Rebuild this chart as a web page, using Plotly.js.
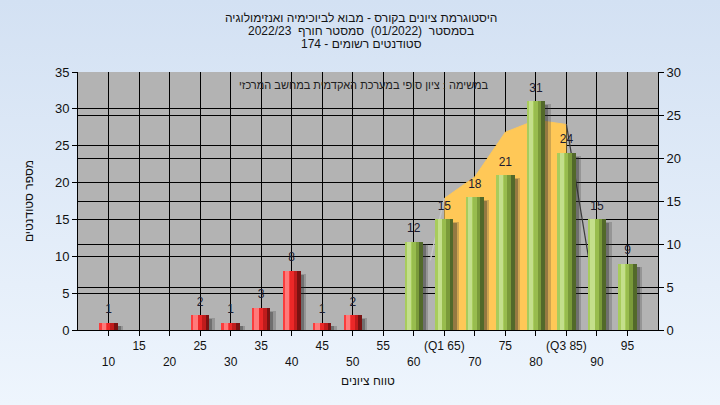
<!DOCTYPE html>
<html><head><meta charset="utf-8">
<script src="https://cdn.plot.ly/plotly-3.0.1.min.js"></script>
<style>
html,body{margin:0;padding:0;width:720px;height:405px;overflow:hidden;background:linear-gradient(to bottom,#d3e1f3,#eef5fd);}
#chart{width:720px;height:405px;}
</style>
</head><body><div id="chart"></div>
<script>
// ---- data ----
const scores = [10,15,20,25,30,35,40,45,50,55,60,65,70,75,80,85,90,95];
const counts = [1,0,0,2,1,3,8,1,2,0,12,15,18,21,31,24,15,9];
const tickLabels = ['10','15','20','25','30','35','40','45','50','55','60','(Q1 65)','70','75','80','(Q3 85)','90','95'];
const curveX = [62.7,65,70,75,80,85,88.7];
const curveY = [8.1,15.3,17.8,23.0,24.4,23.9,8.1];
const q1 = 65, q3 = 85, passMark = 60;

const titleLines = ['היסטוגרמת ציונים בקורס - מבוא לביוכימיה ואנזימולוגיה',
                    'בסמסטר  (01/2022)  סמסטר חורף  2022/23',
                    'סטודנטים רשומים - 174'];
const noteText = 'במשימה : ציון סופי במערכת האקדמית במחשב המרכזי';
const xTitle = 'טווח ציונים';
const yTitle = 'מספר סטודנטים';

const rtl = s => '\u202B' + s + '\u202C';
const FONT = 'Liberation Sans, Arial, sans-serif';

// ---- bar layers (cylinder shading) ----
const isFail = scores.map(s => s < passMark);
const layers = [
  {off:-1.5, w:3.0, red:'#7a1212', green:'#52692a'},
  {off:-1.5, w:2.4, red:'#c01c1c', green:'#7a9a3a'},
  {off:-1.5, w:1.8, red:'#ec2828', green:'#98bc4e'},
  {off:-1.5, w:1.2, red:'#fa3c3c', green:'#a8cc5c'},
  {off:-1.1, w:0.7, red:'#ff7a7a', green:'#c4df8c'}
];
const traces = [];

// yellow area (between Q1 and Q3) on right axis (main y)
const idx = curveX.map((x,i)=>i);
const inIQR = idx.filter(i => curveX[i] >= q1 && curveX[i] <= q3);
traces.push({type:'scatter', mode:'lines', x: inIQR.map(i=>curveX[i]), y: inIQR.map(i=>curveY[i]),
  fill:'tozeroy', fillcolor:'#ffc857', line:{color:'#ffc857', width:1}, yaxis:'y', hoverinfo:'skip'});
const leftIdx = idx.filter(i => curveX[i] <= q1);
traces.push({type:'scatter', mode:'lines', x: leftIdx.map(i=>curveX[i]), y: leftIdx.map(i=>curveY[i]),
  line:{color:'#c6c6c6', width:1.5}, yaxis:'y', hoverinfo:'skip'});
const rightIdx = idx.filter(i => curveX[i] >= q3);
traces.push({type:'scatter', mode:'lines', x: rightIdx.map(i=>curveX[i]), y: rightIdx.map(i=>curveY[i]),
  line:{color:'#3a3a3a', width:1.2}, yaxis:'y', hoverinfo:'skip'});

// soft shadow
traces.push({type:'bar', x: scores, y: counts, base: -0.4, offset:-0.6, width:3.0,
  marker:{color:'rgba(60,60,60,0.25)', line:{width:0}}, yaxis:'y2', hoverinfo:'skip'});
traces.push({type:'bar', x: scores, y: counts, base: -0.5, offset:-0.9, width:2.9,
  marker:{color:'rgba(40,40,40,0.35)', line:{width:0}}, yaxis:'y2', hoverinfo:'skip'});
layers.forEach(L => {
  traces.push({type:'bar', x: scores, y: counts, offset: L.off, width: L.w,
    marker:{color: isFail.map(f => f ? L.red : L.green), line:{width:0}}, yaxis:'y2', hoverinfo:'skip'});
});
// value labels
traces.push({type:'scatter', mode:'markers+text', x: scores, y: counts,
  marker:{size:9, color:'rgba(0,0,0,0)'},
  text: counts.map(c => c > 0 ? String(c) : ''), textposition:'top center',
  textfont:{family:FONT, size:12, color:'#1b1b30'}, yaxis:'y2', hoverinfo:'skip', cliponaxis:false});

// ---- layout ----
const plotTop = 72, plotBot = 330, plotH = plotBot - plotTop, plotL = 78, plotW = 580;
const py = p => (plotBot - p) / plotH;
const px = p => (p - plotL) / plotW;

const annotations = titleLines.map((t, i) => ({
  text: rtl(t), xref:'paper', yref:'paper', x: px(361), y: py(18 + 13*i),
  xanchor:'center', yanchor:'middle', showarrow:false,
  font:{family:FONT, size:12, color:'#141414'}
}));
annotations.push({text: rtl(noteText), xref:'paper', yref:'paper', x: px(491), y: py(85),
  xanchor:'right', yanchor:'middle', showarrow:false, font:{family:FONT, size:11, color:'#202020'}});

const layout = {
  width:720, height:405,
  margin:{l:78, r:62, t:72, b:75},
  paper_bgcolor:'rgba(0,0,0,0)', plot_bgcolor:'#b3b3b3',
  barmode:'overlay', showlegend:false, bargap:0,
  font:{family:FONT, size:12, color:'#1a1a1a'},
  xaxis:{range:[5,100], tickmode:'array', tickvals: scores,
    ticktext: tickLabels.map((t,i) => i % 2 === 0 ? '<br>' + t : t),
    ticks:'outside', ticklen:5, tickcolor:'#000', showgrid:true, gridcolor:'#000', gridwidth:1,
    showline:true, linecolor:'#000', linewidth:1, zeroline:false, fixedrange:true,
    tickfont:{family:FONT, size:12, color:'#111'},
    title:{text: rtl(xTitle), font:{family:FONT, size:12, color:'#111'}, standoff:8}},
  yaxis:{range:[0,30], dtick:5, side:'right', ticks:'outside', ticklen:5, tickcolor:'#000',
    showgrid:true, gridcolor:'#000', gridwidth:1, showline:true, linecolor:'#000', zeroline:false,
    tickfont:{family:FONT, size:13, color:'#111'}},
  yaxis2:{range:[0,35], dtick:5, side:'left', overlaying:'y', ticks:'outside', ticklen:5, tickcolor:'#000',
    showgrid:true, gridcolor:'#000', gridwidth:1, showline:true, linecolor:'#000', zeroline:false,
    tickfont:{family:FONT, size:13, color:'#111'},
    title:{text: rtl(yTitle), font:{family:FONT, size:12, color:'#111'}, standoff:18}},
  annotations: annotations
};

Plotly.newPlot('chart', traces, layout, {staticPlot:true, displayModeBar:false});
</script>
</body></html>
